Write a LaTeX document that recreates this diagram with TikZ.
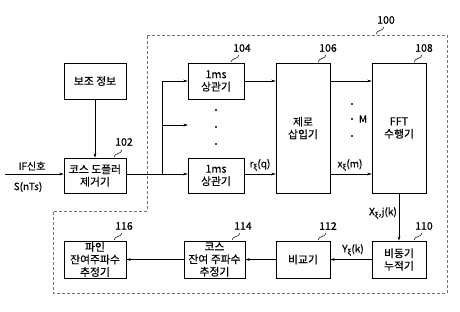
\documentclass[tikz,border=0pt]{standalone}
\usepackage{fontspec}
\setmainfont{Noto Sans CJK KR}[FakeBold=0.5]
\usetikzlibrary{arrows.meta,calc}
\tikzset{
  box/.style={draw, line width=0.7pt, align=center, inner sep=0pt, font=\fontsize{10.8}{12.5}\selectfont},
  conn/.style={line width=0.6pt, -{Stealth[length=4.5pt,width=2.8pt]}},
  plain/.style={line width=0.6pt},
  num/.style={font=\fontsize{10.5}{12}\selectfont, inner sep=0pt},
  elab/.style={font=\fontsize{10}{11}\selectfont, inner sep=0pt},
  squig/.style={line width=0.5pt},
  dots/.style={fill, circle, inner sep=0pt, minimum size=2.4pt}
}
\newcommand{\sq}[1]{\draw[squig] (#1) to[out=80,in=200] ($(#1)+(4,-3.5)$) to[out=20,in=260] ($(#1)+(8,-7)$);}
\newcommand{\sub}{\textsubscript{ξ}}
\begin{document}
\begin{tikzpicture}[x=1pt,y=-1pt]
\useasboundingbox (0,0) rectangle (460,311);
% dashed enclosure 100
\draw[black!55, line width=0.7pt, dash pattern=on 3pt off 2pt]
  (147,35) -- (447,35) -- (447,293) -- (53,293) -- (53,211) -- (147,211) -- cycle;
% boxes
\node[box, minimum width=62pt, minimum height=36pt] (aux) at (95,81) {보조 정보};
\node[box, minimum width=62pt, minimum height=35pt] (dop) at (95,175.5) {코스 도플러\\제거기};
\node[box, minimum width=56pt, minimum height=36pt] (cor1) at (216,81) {1ms\\상관기};
\node[box, minimum width=56pt, minimum height=35pt] (cor2) at (216,175.5) {1ms\\상관기};
\node[box, minimum width=54pt, minimum height=130pt] (zero) at (303,128) {제로\\삽입기};
\node[box, minimum width=54pt, minimum height=130pt] (fft) at (399,128) {FFT\\수행기};
\node[box, minimum width=54pt, minimum height=37pt] (acc) at (399,259.5) {비동기\\누적기};
\node[box, minimum width=54pt, minimum height=37pt] (cmp) at (303,259.5) {비교기};
\node[box, minimum width=61pt, minimum height=37pt] (coarse) at (214.5,259.5) {코스\\잔여 주파수\\추정기};
\node[box, minimum width=62pt, minimum height=37pt] (fine) at (95,259.5) {파인\\잔여주파수\\추정기};
% number labels
\node[num] (n100) at (386,20) {100};
\node[num] (n102) at (124,142) {102};
\node[num] (n104) at (242,48) {104};
\node[num] (n106) at (328,48) {106};
\node[num] (n108) at (424,48) {108};
\node[num] (n110) at (424,226) {110};
\node[num] (n112) at (328,226) {112};
\node[num] (n114) at (243,226) {114};
\node[num] (n116) at (124,226) {116};
\coordinate (s100) at (376,34);
\coordinate (s102) at (114,157);
\coordinate (s104) at (231,62);
\coordinate (s106) at (318,62);
\coordinate (s108) at (414,62);
\coordinate (s110) at (414,240);
\coordinate (s112) at (318,240);
\coordinate (s114) at (232,240);
\coordinate (s116) at (114,240);
\sq{s100}\sq{s102}\sq{s104}\sq{s106}\sq{s108}\sq{s110}\sq{s112}\sq{s114}\sq{s116}
% input
\coordinate (in) at (5,174);
\node[elab] (ifl) at (32,166) {IF신호};
\node[elab] (snt) at (28,187) {S(nTs)};
\draw[conn] (in) -- (in -| dop.west);
\draw[conn] (aux) -- (dop);
% branch
\coordinate (jb) at (162,174);
\coordinate (jt) at (162,81);
\coordinate (jm) at (162,125);
\coordinate (jme) at (188,125);
\draw[plain] (dop.east |- jb) -- (jb) -- (jt);
\draw[conn] (jt) -- (cor1.west);
\draw[conn] (jm) -- (jme);
\draw[conn] (jb) -- (jb -| cor2.west);
% dots
\node[dots] (d1) at (216,110) {};
\node[dots] (d2) at (216,127) {};
\node[dots] (d3) at (216,144) {};
\node[dots] (d4) at (352,104) {};
\node[dots] (d5) at (352,119) {};
\node[dots] (d6) at (352,136) {};
\node[elab] (mm) at (363,119) {M};
% upper chain
\draw[conn] (cor1.east) -- (cor1.east -| zero.west);
\draw[conn] (zero.east |- cor1.east) -- (cor1.east -| fft.west);
\draw[conn] (cor2.east |- jb) -- (jb -| zero.west);
\draw[conn] (zero.east |- jb) -- (jb -| fft.west);
\node[elab] (rq) at (260,165) {r\sub(q)};
\node[elab] (xm) at (350,165) {x\sub(m)};
% down
\draw[conn] (fft) -- (acc);
\node[elab, anchor=east] (xk) at (397,213) {X\sub,j(k)};
% bottom chain
\draw[conn] (acc) -- (cmp);
\node[elab] (yk) at (353,250) {Y\sub(k)};
\draw[conn] (cmp) -- (coarse);
\draw[conn] (coarse) -- (fine);
\end{tikzpicture}
\end{document}
